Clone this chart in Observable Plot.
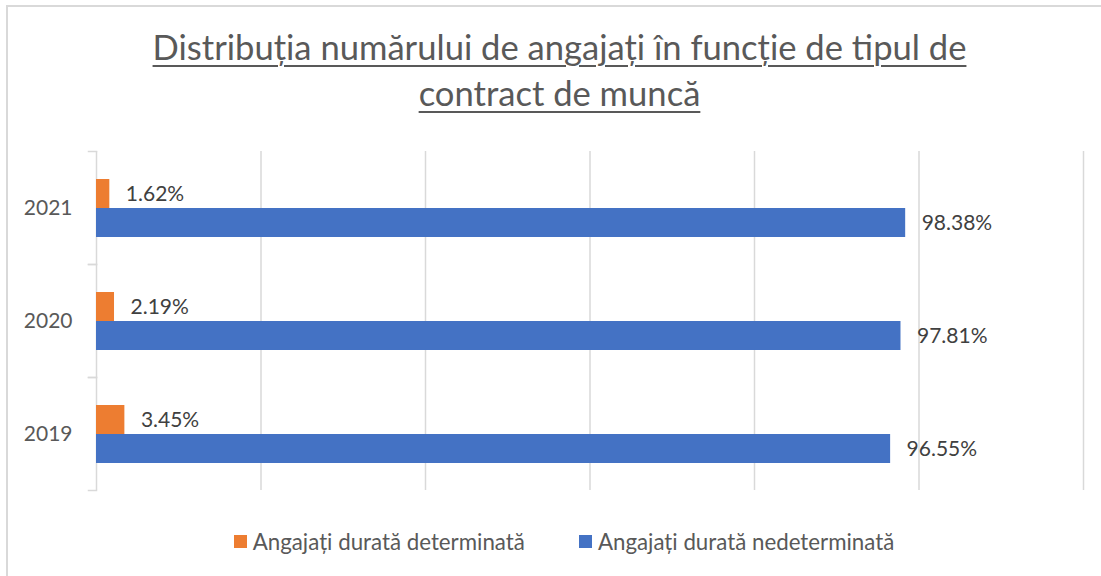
<!DOCTYPE html>
<html>
<head>
<meta charset="utf-8">
<script src="https://cdn.jsdelivr.net/npm/d3@7"></script>
<script src="https://cdn.jsdelivr.net/npm/@observablehq/plot@0.6"></script>
<style>
  html, body { margin: 0; padding: 0; background: #fff; }
  #wrap { position: relative; width: 1101px; height: 576px; overflow: hidden; font-family: Lato, "Open Sans", sans-serif; }
  #border { position: absolute; left: 6px; top: 5px; width: 1200px; height: 700px; border-left: 2px solid #d9d9d9; border-top: 2px solid #d9d9d9; box-sizing: border-box; }
  #title { position: absolute; left: 0; top: 24px; width: 1119px; text-align: center; color: #595959; font-size: 34.6px; font-weight: 400; line-height: 46px; }
  #title span { text-decoration: underline; text-decoration-thickness: 2px; text-underline-offset: 5px; }
  #chart { position: absolute; left: 0; top: 0; }
  #legend { position: absolute; left: 0; top: 528px; width: 1128px; display: flex; justify-content: center; gap: 54px; color: #595959; font-size: 22.3px; }
  .item { display: flex; align-items: center; gap: 6px; }
  .sw { width: 13px; height: 13px; display: inline-block; }
</style>
</head>
<body>
<div id="wrap">
  <div id="border"></div>
  <div id="chart"></div>
  <div id="title"></div>
  <div id="legend"></div>
</div>
<script>
const titleLines = ["Distribuția numărului de angajați în funcție de tipul de", "contract de muncă"];
const years = ["2021", "2020", "2019"];
const series = ["Angajați durată determinată", "Angajați durată nedeterminată"];
const colors = ["#ed7d31", "#4472c4"];
const determinata = [1.62, 2.19, 3.45];
const nedeterminata = [98.38, 97.81, 96.55];
const xTicks = [0, 20, 40, 60, 80, 100, 120];

const rows = [];
years.forEach((y, i) => {
  rows.push({year: y, series: series[0], value: determinata[i]});
  rows.push({year: y, series: series[1], value: nedeterminata[i]});
});

document.getElementById("title").innerHTML = titleLines.map(t => `<span>${t}</span>`).join("<br>");
document.getElementById("legend").innerHTML = series.map((s, i) =>
  `<div class="item"><span class="sw" style="background:${colors[i]}"></span><span>${s}</span></div>`).join("");

const W = 1101, H = 576, mL = 96, mR = 18, mT = 150, mB = 86;
const plotW = W - mL - mR;

const chart = Plot.plot({
  width: W,
  height: H,
  marginLeft: mL,
  marginRight: mR,
  marginTop: mT,
  marginBottom: mB,
  style: {fontFamily: "Lato, 'Open Sans', sans-serif", fontSize: "21px", color: "#595959", background: "transparent", overflow: "visible"},
  x: {domain: [0, 120], axis: null},
  y: {domain: series, paddingInner: 0, paddingOuter: 0.92, axis: null},
  fy: {domain: years, padding: 0, axis: null},
  color: {domain: series, range: colors},
  marks: [
    Plot.ruleX(xTicks, {stroke: "#d9d9d9", strokeWidth: 1.5}),
    Plot.frame({anchor: "top", stroke: "#d9d9d9", strokeWidth: 1.5, insetLeft: -8, insetRight: plotW}),
    Plot.frame({anchor: "bottom", stroke: "#d9d9d9", strokeWidth: 1.5, insetLeft: -8, insetRight: plotW}),
    Plot.barX(rows, {x: "value", y: "series", fy: "year", fill: "series"}),
    Plot.text(rows, {x: "value", y: "series", fy: "year", text: d => d.value.toFixed(2) + "%", textAnchor: "start", dx: 16, fill: "#404040", fontSize: 21}),
    Plot.axisFy({anchor: "left", tickSize: 0, tickPadding: 24, fontSize: 21, label: null, color: "#595959"})
  ]
});
document.getElementById("chart").appendChild(chart);
</script>
</body>
</html>
